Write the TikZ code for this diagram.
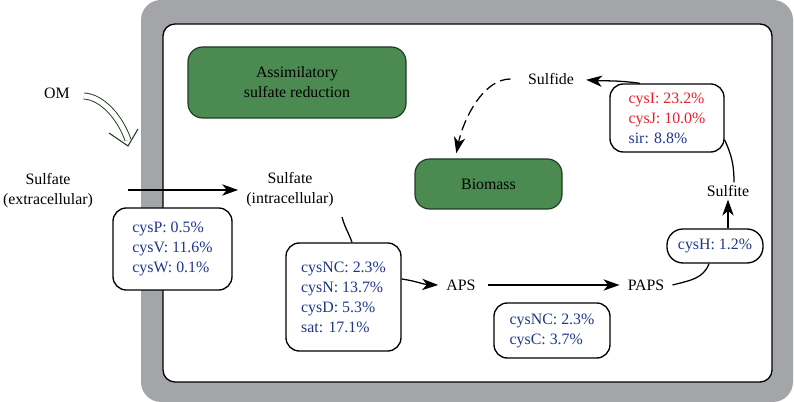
\documentclass[tikz,border=0pt]{standalone}
\usepackage{fontspec}
\setmainfont{Liberation Serif}
\usetikzlibrary{arrows.meta,calc}
\definecolor{cellgray}{RGB}{163,165,168}
\definecolor{boxgreen}{RGB}{75,138,80}
\definecolor{darkgreen}{RGB}{30,60,32}
\definecolor{geneblue}{RGB}{30,55,140}
\definecolor{genered}{RGB}{232,32,40}
\begin{document}
\begin{tikzpicture}[x=0.75pt,y=-0.75pt,
  font=\fontsize{11.9}{15}\selectfont,
  genebox/.style={draw=black, line width=1pt, rounded corners=10pt, fill=white, align=left, text=geneblue},
  greenbox/.style={draw=darkgreen, line width=0.9pt, rounded corners=11pt, fill=boxgreen, align=center},
  lbl/.style={align=center, inner sep=2pt},
  arr/.style={-{Stealth[length=12pt,width=8.5pt,inset=3.5pt]}, line width=0.95pt},
  link/.style={line width=0.95pt}]

\useasboundingbox (0,0) rectangle (794,402);
\fill[cellgray, rounded corners=15pt] (141,0) rectangle (793,402);
\draw[fill=white, line width=1pt, rounded corners=9pt] (163,24) rectangle (772,382);

\node[greenbox, minimum width=163.5pt, minimum height=53.25pt] (asr) at (297,82.5) {Assimilatory\\sulfate reduction};
\node[greenbox, minimum width=110.25pt, minimum height=37.5pt] (bio) at (488.5,184) {Biomass};
\node[lbl] (sulfide) at (551,79) {Sulfide};
\node[genebox, minimum width=85.5pt, minimum height=51pt] (cysI) at (667,118)
  {\textcolor{genered}{cysI: 23.2\%}\\\textcolor{genered}{cysJ: 10.0\%}\\sir: 8.8\%};
\node[lbl] (sulfite) at (728,191) {Sulfite};
\node[genebox, minimum width=72pt, minimum height=25.5pt, rounded corners=12pt] (cysH) at (715,246) {cysH: 1.2\%};
\node[lbl, inner sep=6pt] (paps) at (646,285) {PAPS};
\node[lbl, inner sep=6pt] (aps) at (461,285) {APS};
\node[genebox, minimum width=87pt, minimum height=41.25pt] (cysC) at (552,330.5) {cysNC: 2.3\%\\cysC: 3.7\%};
\node[genebox, minimum width=86.25pt, minimum height=81pt] (box4) at (343.5,297)
  {cysNC: 2.3\%\\cysN: 13.7\%\\cysD: 5.3\%\\sat: 17.1\%};
\node[lbl] (intra) at (290,190) {Sulfate\\(intracellular)};
\node[lbl] (extra) at (48,191) {Sulfate\\(extracellular)};
\node[genebox, minimum width=89.25pt, minimum height=61.5pt] (cysP) at (172.5,249) {cysP: 0.5\%\\cysV: 11.6\%\\cysW: 0.1\%};
\node[lbl] (om) at (57,93) {OM};

% connectors
\coordinate (e1) at (128,190);
\draw[arr, shorten >=4pt] (e1) -- (intra.west |- e1);
\coordinate (i1) at (342,217);
\draw[link] (i1) to[out=-75, in=110] ([xshift=6.4pt]box4.north);
\draw[arr] ([yshift=13.5pt]box4.east) to[out=-8, in=178] (aps.west);
\draw[arr, shorten <=3pt] (aps.east) -- (paps.west);
\draw[link] (paps.east) to[out=15, in=-110] ([xshift=-4.5pt]cysH.south);
\draw[arr] ([xshift=9.75pt]cysH.north) -- (sulfite.south);
\draw[link] ([yshift=-16.5pt]cysI.east) to[out=-65, in=90] ([xshift=4.5pt]sulfite.north);
\draw[arr, shorten >=7pt] ([xshift=-20.25pt]cysI.north) to[out=172, in=-5] (sulfide.east);
\draw[arr, dash pattern=on 8pt off 4pt, shorten <=11pt, shorten >=4pt]
  (sulfide.west) to[out=180, in=78] ([xshift=-25pt]bio.north);

% OM influx arrow
\coordinate (o1) at (84,96);
\coordinate (o2) at (128,140);
\coordinate (otip) at (128,146);
\draw[darkgreen, line width=0.7pt, double=white, double distance=3.8pt]
  (o1) .. controls (102,97) and (120,117) .. (o2);
\draw[darkgreen, line width=0.8pt] (109,133) -- (otip) -- (138,129);
\end{tikzpicture}
\end{document}
